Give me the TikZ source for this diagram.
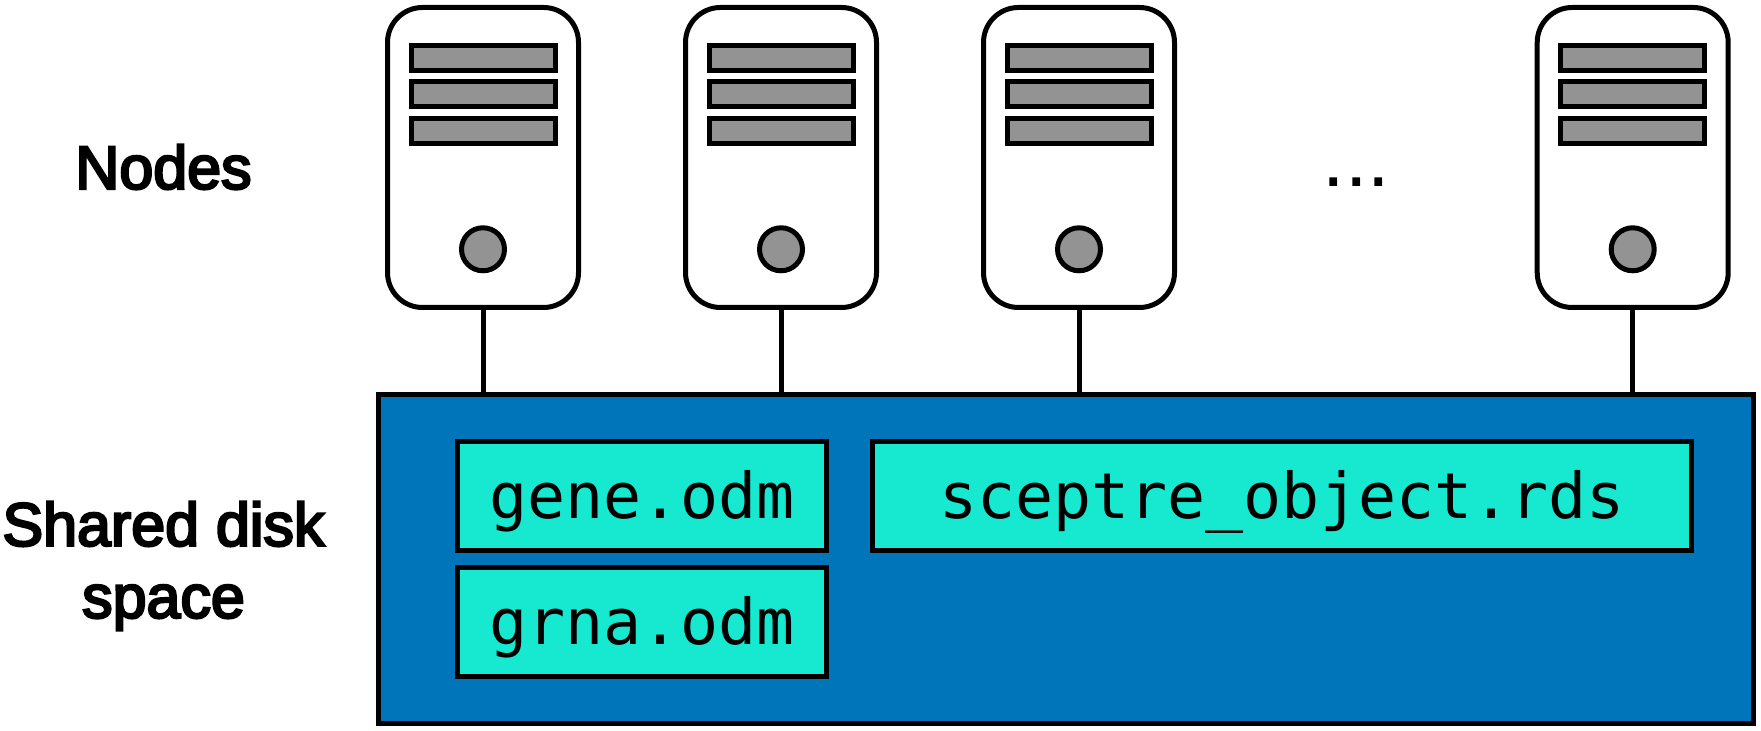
\documentclass[tikz,border=0pt]{standalone}
\usepackage{fontspec}
\usepackage{xcolor}
\newfontfamily\labelfont[FakeBold=4]{Liberation Sans}
\newfontfamily\dotsfont{Liberation Sans}
\newfontfamily\filefont{DejaVu Sans Mono}
\definecolor{diskblue}{HTML}{0175B9}
\definecolor{fileteal}{HTML}{16E9D0}
\definecolor{slotgray}{HTML}{939393}
\usetikzlibrary{
    positioning,
    calc
}
\tikzset{%
    % Specifications for style of nodes:
    base/.style = {
        rectangle, draw=black, line width=1mm, outer sep=0pt, inner sep=0pt
    },
    server/.style = {base, rounded corners=7mm, fill=white, minimum width=3.82cm, minimum height=6cm},
    slot/.style = {base, fill=slotgray, minimum width=2.88cm, minimum height=0.5cm},
    button/.style = {base, circle, fill=slotgray, minimum size=0.86cm},
    disk/.style = {base, fill=diskblue, minimum width=27.5cm, minimum height=6.58cm},
    file/.style = {base, fill=fileteal, minimum height=2.18cm, text height=1.2cm, text depth=0.28cm,
        font=\filefont\fontsize{36}{43}\selectfont},
    heading/.style = {align=center, font=\labelfont\fontsize{34.7}{41}\selectfont}
}

\begin{document}
\begin{tikzpicture}
    \useasboundingbox (0,0) rectangle (35.22,14.62);
    \node[heading] (nodeslabel) at (3.27,11.28) {Nodes};
    \node[heading] (disklabel) at (3.27,3.30) {Shared disk\\space};
    \node[font=\dotsfont\fontsize{46}{46}\selectfont] (dots) at (27.13,10.98) {...};

    \node[disk] (disk) at (21.32,3.44) {};
    \node[file, minimum width=7.38cm] (gene) at (12.84,4.7) {gene.odm};
    \node[file, minimum width=7.38cm] (grna) at (12.84,2.18) {grna.odm};
    \node[file, minimum width=16.38cm] (sceptre) at (25.64,4.7) {sceptre\_object.rds};

    \node[server] (server1) at (9.66,11.47) {};
    \node[slot] (slot1a) at (9.66,13.466) {};
    \node[slot] (slot1b) at (9.66,12.73) {};
    \node[slot] (slot1c) at (9.66,12.0) {};
    \node[button] (button1) at (9.66,9.634) {};

    \node[server] (server2) at (15.62,11.47) {};
    \node[slot] (slot2a) at (15.62,13.466) {};
    \node[slot] (slot2b) at (15.62,12.73) {};
    \node[slot] (slot2c) at (15.62,12.0) {};
    \node[button] (button2) at (15.62,9.634) {};

    \node[server] (server3) at (21.58,11.47) {};
    \node[slot] (slot3a) at (21.58,13.466) {};
    \node[slot] (slot3b) at (21.58,12.73) {};
    \node[slot] (slot3c) at (21.58,12.0) {};
    \node[button] (button3) at (21.58,9.634) {};

    \node[server] (server4) at (32.654,11.47) {};
    \node[slot] (slot4a) at (32.654,13.466) {};
    \node[slot] (slot4b) at (32.654,12.73) {};
    \node[slot] (slot4c) at (32.654,12.0) {};
    \node[button] (button4) at (32.654,9.634) {};

    \draw[line width=1mm] (server1.south) -- (server1.south |- disk.north);
    \draw[line width=1mm] (server2.south) -- (server2.south |- disk.north);
    \draw[line width=1mm] (server3.south) -- (server3.south |- disk.north);
    \draw[line width=1mm] (server4.south) -- (server4.south |- disk.north);
\end{tikzpicture}
\end{document}
